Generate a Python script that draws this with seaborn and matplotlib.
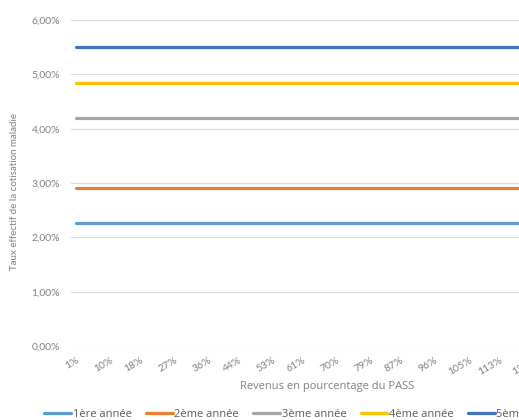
import matplotlib
matplotlib.use("Agg")
import matplotlib.pyplot as plt
import seaborn as sns
import pandas as pd
from matplotlib.ticker import FuncFormatter

# Revenus exprimés en % du PASS (points de l'axe des abscisses)
revenus_pass = [1, 10, 18, 27, 36, 44, 53, 61, 70, 79, 87, 96, 105, 113, 122, 131]

# Taux effectif de la cotisation maladie (%) selon l'année d'activité
annees = ["1ère année", "2ème année", "3ème année", "4ème année", "5ème année"]
taux = [2.26, 2.91, 4.20, 4.85, 5.50]
couleurs = ["#5B9BD5", "#ED7D31", "#A5A5A5", "#FFC000", "#4472C4"]

rows = []
for annee, t in zip(annees, taux):
    for r in revenus_pass:
        rows.append({"Revenu": r, "Taux": t, "Année": annee})
df = pd.DataFrame(rows)

sns.set_theme(style="white")
plt.rcParams["font.family"] = ["Lato", "DejaVu Sans"]

fig = plt.figure(figsize=(5.19, 4.20), dpi=100)
ax = fig.add_axes([0.137, 0.176, 1.122 - 0.137, 0.776])

sns.lineplot(data=df, x="Revenu", y="Taux", hue="Année", hue_order=annees,
             palette=couleurs, linewidth=2.3, ax=ax, legend=False, zorder=3)

ax.set_xlim(-0.33, 135)
ax.set_ylim(0, 6)
ax.set_yticks([0, 1, 2, 3, 4, 5, 6])
ax.yaxis.set_major_formatter(FuncFormatter(lambda v, p: f"{v:.2f}".replace(".", ",") + "%"))
ax.set_xticks(revenus_pass[:-1])
ax.set_xticklabels([f"{r}%" for r in revenus_pass[:-1]], rotation=30, ha="right",
                   rotation_mode="anchor")

ax.grid(axis="y", color="#D9D9D9", linewidth=0.9, zorder=0)
ax.grid(axis="x", visible=False)
for s in ax.spines.values():
    s.set_visible(False)
ax.tick_params(axis="both", length=0, labelsize=7.5, labelcolor="#808080")
ax.tick_params(axis="x", pad=7)
ax.tick_params(axis="y", pad=8)

ax.set_xlabel("Revenus en pourcentage du PASS", fontsize=8, color="#808080", labelpad=3,
              family=["Open Sans", "DejaVu Sans"])
ax.set_ylabel("Taux effectif de la cotisation maladie", fontsize=7, color="#808080")
ax.yaxis.set_label_coords(-0.102, 0.475)

handles = [plt.Line2D([0], [0], color=c, lw=2.3) for c in couleurs]
fig.legend(handles, annees, loc="lower left", bbox_to_anchor=(0.066, -0.024), ncol=5,
           frameon=False, prop={"family": ["Open Sans", "DejaVu Sans"], "size": 8},
           labelcolor="#595959", handlelength=2.4, handletextpad=0.15, columnspacing=1.3)

fig.savefig("out.png", dpi=100)
